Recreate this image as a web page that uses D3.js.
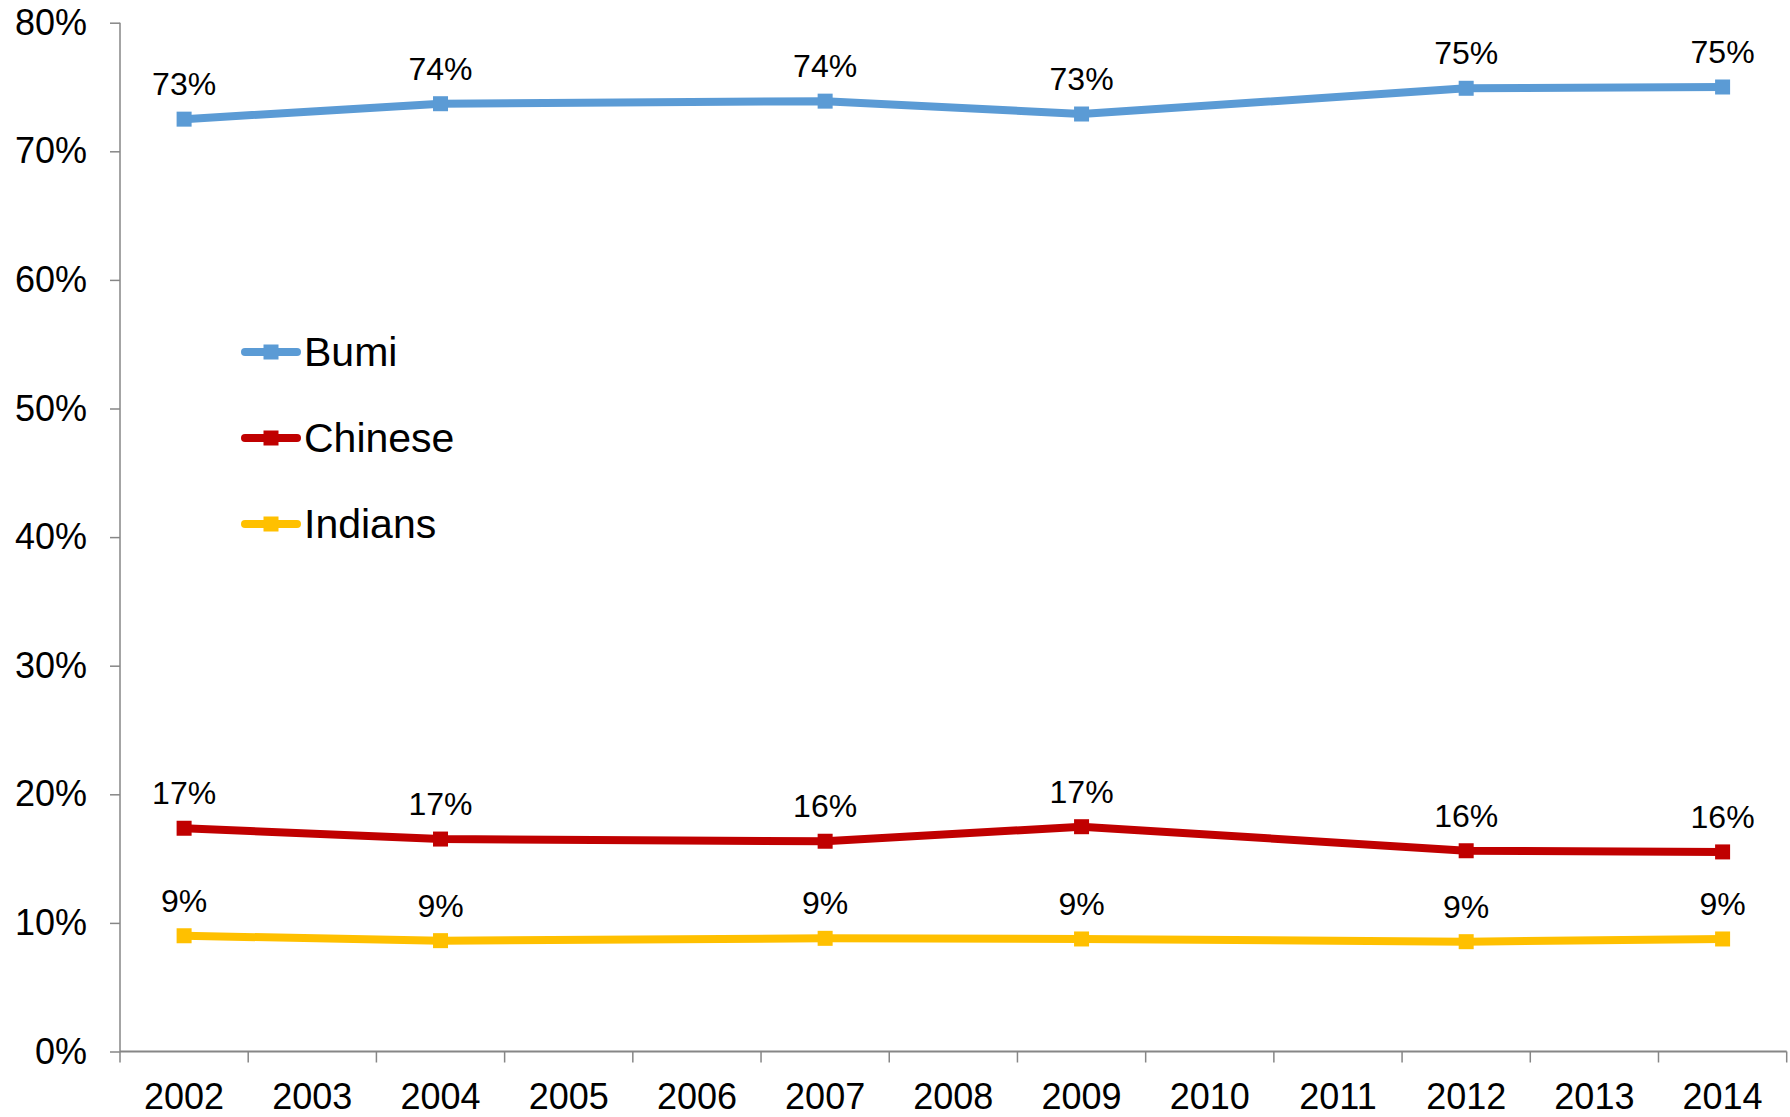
<!DOCTYPE html>
<html><head><meta charset="utf-8">
<script src="https://cdn.jsdelivr.net/npm/d3@7"></script>
<style>body{margin:0;background:#fff}svg{display:block;font-family:"Liberation Sans",Arial,sans-serif}</style>
</head><body><svg id="c" width="1790" height="1117"></svg>
<script>
const years = ["2002","2003","2004","2005","2006","2007","2008","2009","2010","2011","2012","2013","2014"];
const dataYears = ["2002","2004","2007","2009","2012","2014"];
const bumi = [72.5, 73.7, 73.9, 72.9, 74.9, 75.0];
const chinese = [17.36, 16.52, 16.35, 17.48, 15.61, 15.52];
const indians = [9.0, 8.62, 8.8, 8.75, 8.54, 8.75];
const seriesNames = ["Bumi","Chinese","Indians"];
const seriesColors = ["#5B9BD5","#C00000","#FFC000"];
const yTicks = [0,10,20,30,40,50,60,70,80];

const series = [bumi, chinese, indians].map((v,i)=>({name:seriesNames[i], color:seriesColors[i], values:v.map((d,j)=>({year:dataYears[j], v:d}))}));

const svg = d3.select("#c");
const x = d3.scaleBand().domain(years).range([120, 1786.7]);
const y = d3.scaleLinear().domain([0,80]).range([1051.5, 22.7]);
const axisColor = "#868686";
const ff = "Liberation Sans, Arial, sans-serif";

// y axis
const ya = svg.append("g").attr("transform","translate(120,0)")
  .call(d3.axisLeft(y).tickValues(yTicks).tickSize(10).tickPadding(23).tickFormat(d=>d+"%"));
ya.select(".domain").attr("stroke",axisColor).attr("stroke-width",1.5).attr("d","M0,"+y(80)+"V"+y(0));
ya.selectAll(".tick line").attr("stroke",axisColor).attr("stroke-width",1.5);
ya.selectAll(".tick text").attr("font-size",36).attr("fill","#000").attr("font-family",ff);

// x axis
const xa = svg.append("g").attr("transform","translate(0,"+y(0)+")")
  .call(d3.axisBottom(x).tickSize(0).tickPadding(0));
xa.select(".domain").attr("stroke",axisColor).attr("stroke-width",2).attr("d","M120,0H1786.7");
xa.selectAll(".tick text").attr("font-size",36).attr("fill","#000").attr("font-family",ff).attr("dy",null).attr("y",57);
const bounds = years.map(d=>x(d)).concat([x(years[years.length-1])+x.bandwidth()]);
xa.selectAll("line.bt").data(bounds).enter().append("line").attr("class","bt")
  .attr("x1",d=>d).attr("x2",d=>d).attr("y1",0).attr("y2",11).attr("stroke",axisColor).attr("stroke-width",1.5);

const cx = d=>x(d.year)+x.bandwidth()/2;
const line = d3.line().x(cx).y(d=>y(d.v));

const g = svg.append("g");
series.forEach(s=>{
  g.append("path").attr("d",line(s.values)).attr("fill","none").attr("stroke",s.color).attr("stroke-width",8).attr("stroke-linejoin","round");
  g.selectAll(null).data(s.values).enter().append("rect")
    .attr("x",d=>cx(d)-7.5).attr("y",d=>y(d.v)-7.5).attr("width",15).attr("height",15).attr("fill",s.color);
  g.selectAll(null).data(s.values).enter().append("text")
    .attr("x",cx).attr("y",d=>y(d.v)-24).attr("text-anchor","middle").attr("font-size",32).attr("fill","#000")
    .text(d=>Math.round(d.v)+"%");
});

// legend
const leg = svg.append("g");
const legY = [352, 438, 524];
series.forEach((s,i)=>{
  leg.append("line").attr("x1",245).attr("x2",297).attr("y1",legY[i]).attr("y2",legY[i])
    .attr("stroke",s.color).attr("stroke-width",8).attr("stroke-linecap","round");
  leg.append("rect").attr("x",271-7.5).attr("y",legY[i]-7.5).attr("width",15).attr("height",15).attr("fill",s.color);
  leg.append("text").attr("x",304).attr("y",legY[i]).attr("dy","0.35em").attr("font-size",41).attr("fill","#000").text(s.name);
});
</script></body></html>
